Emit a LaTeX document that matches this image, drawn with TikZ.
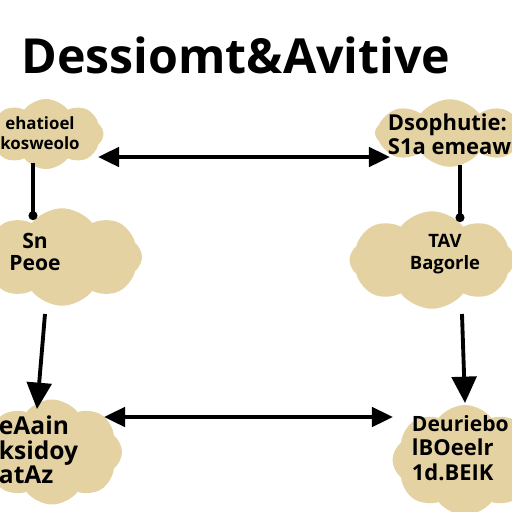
\documentclass[tikz,border=0pt]{standalone}
\usepackage{fontspec}
\setmainfont{Open Sans}
\usetikzlibrary{positioning,shapes.symbols,arrows.meta}
\definecolor{cloudtan}{RGB}{228,210,162}

\begin{document}
\begin{tikzpicture}[x=0.02cm,y=-0.02cm,line width=2.2pt]
    \tikzstyle{blob}=[cloud, cloud puffs=8, cloud puff arc=105, cloud ignores aspect, fill=cloudtan, inner sep=0pt]
    \tikzstyle{label}=[align=center, font=\bfseries, inner sep=0pt]
    \tikzstyle{both way}=[{Triangle[length=12pt,width=11pt]}-{Triangle[length=12pt,width=11pt]}]
    \tikzstyle{down way}=[-{Triangle[length=15pt,width=14pt]}]
    \tikzstyle{hang}=[-{Circle[length=5pt]}]

    \useasboundingbox[fill=white] (0,0) rectangle (512,512);

    % Draw the title
    \node[font=\bfseries\fontsize{27.5}{30}\selectfont] (title) at (236,55) {Dessiomt\&Avitive};

    % Draw the clouds
    \node[blob, minimum width=2.3cm, minimum height=1.4cm] (TL) at (46,134) {};
    \node[blob, minimum width=3.0cm, minimum height=1.35cm] (TR) at (450,133) {};
    \node[blob, minimum width=3.2cm, minimum height=1.95cm] (ML) at (62,257) {};
    \node[blob, minimum width=3.3cm, minimum height=1.95cm] (MR) at (432,260) {};
    \node[blob, minimum width=2.8cm, minimum height=2.1cm] (BL) at (52,452) {};
    \node[blob, minimum width=2.9cm, minimum height=2.2cm] (BR) at (465,460) {};

    % Write the cloud texts
    \node[label, font=\bfseries\fontsize{9.6}{11.5}\selectfont] (TL-text) at (40,133) {ehatioel\\kosweolo};
    \node[label, anchor=west, align=left, font=\bfseries\fontsize{12.5}{13.5}\selectfont] (TR-text) at (386,134) {Dsophutie:\\S1a emeaw};
    \node[label, font=\bfseries\fontsize{12}{12}\selectfont] (ML-text) at (35,252) {Sn\\Peoe};
    \node[label, font=\bfseries\fontsize{10.5}{12.5}\selectfont] (MR-text) at (445,254) {TAV\\Bagorle};
    \node[label, anchor=west, align=left, font=\bfseries\fontsize{14}{14}\selectfont] (BL-text) at (-3,450) {eAain\\ksidoy\\atAz};
    \node[label, anchor=west, align=left, font=\bfseries\fontsize{12.5}{14}\selectfont] (BR-text) at (410,448) {{\fontsize{12}{14}\selectfont Deuriebo}\\lBOeelr\\1d.BEIK};

    % Ends of the connectors
    \coordinate (top-l) at (98,157);
    \coordinate (top-r) at (390,157);
    \coordinate (bot-l) at (104,417);
    \coordinate (bot-r) at (393,417);
    \coordinate (hl-a) at (33,163);
    \coordinate (hl-b) at (33,220);
    \coordinate (hr-a) at (460,165);
    \coordinate (hr-b) at (460,222);
    \coordinate (dl-a) at (45,314);
    \coordinate (dl-b) at (37,409);
    \coordinate (dr-a) at (462,314);
    \coordinate (dr-b) at (465,403);

    % Connect the clouds
    \draw[both way] (top-l) -- (top-r);
    \draw[both way] (bot-l) -- (bot-r);
    \draw[hang] (hl-a) -- (hl-b);
    \draw[hang] (hr-a) -- (hr-b);
    \draw[down way] (dl-a) -- (dl-b);
    \draw[down way] (dr-a) -- (dr-b);
\end{tikzpicture}
\end{document}
